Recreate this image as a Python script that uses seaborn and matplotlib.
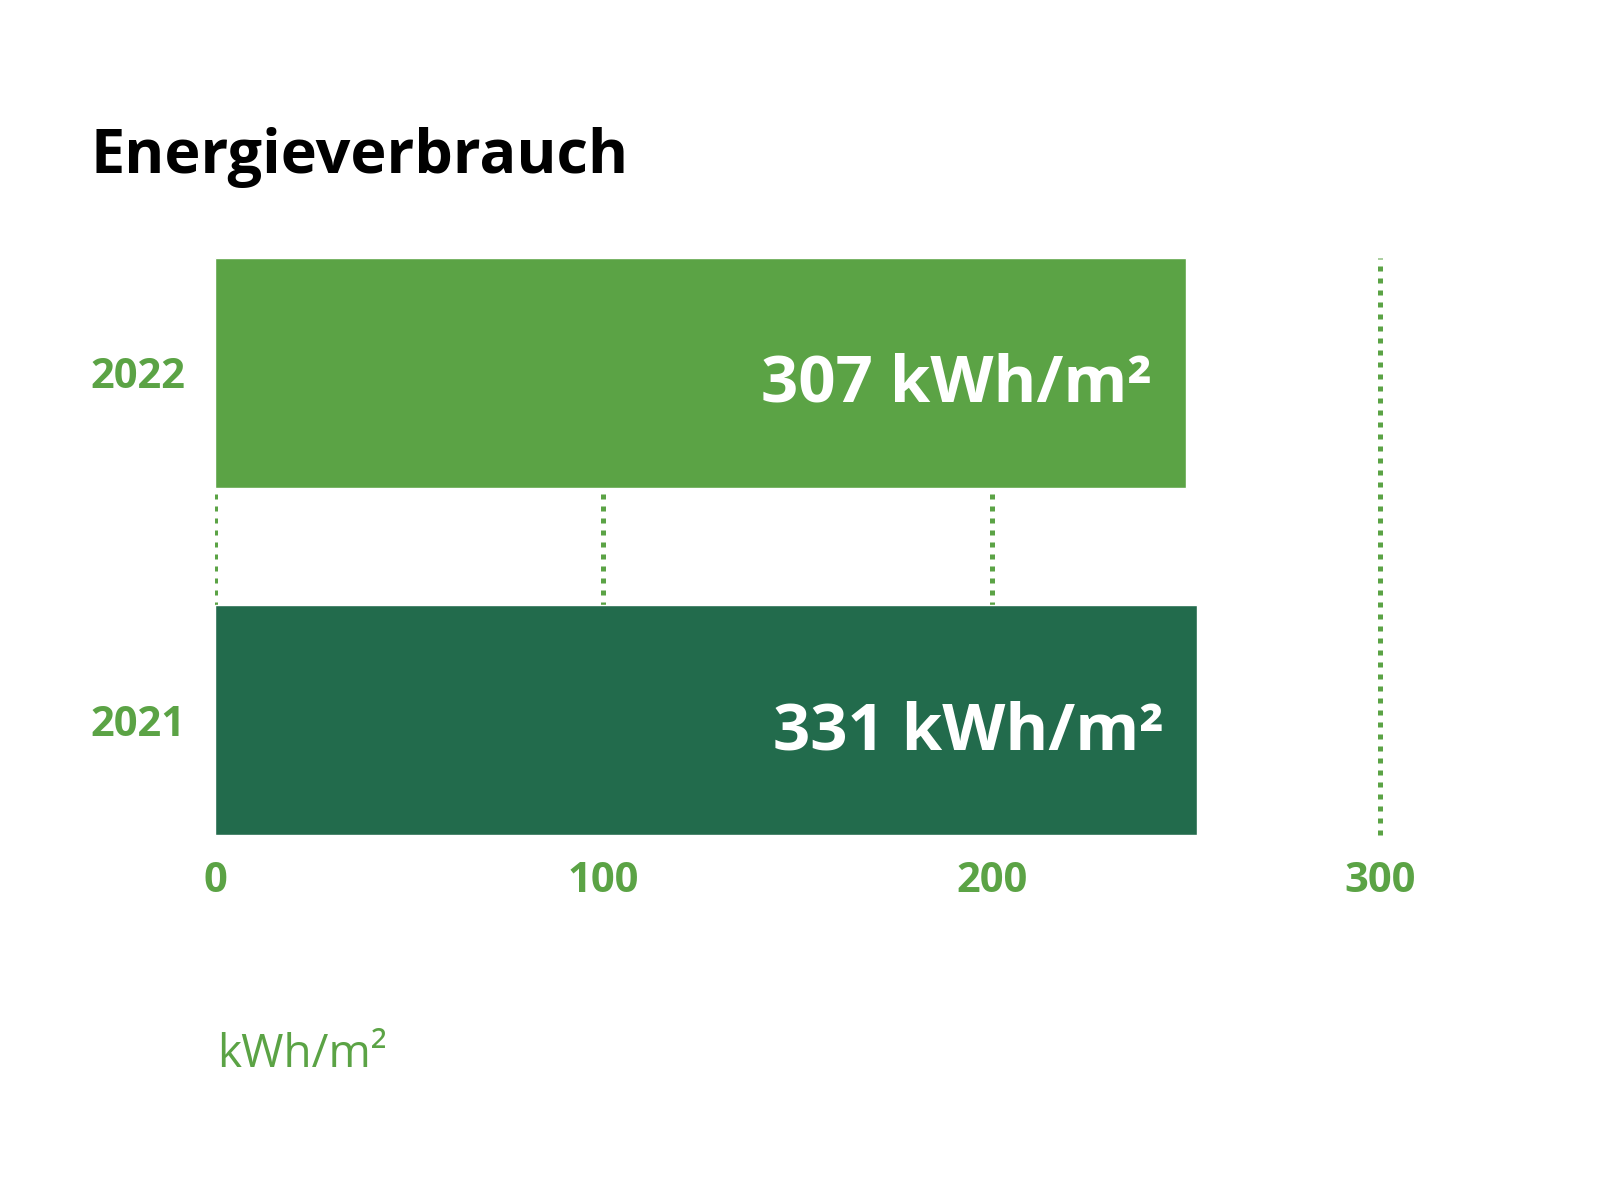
import matplotlib
matplotlib.use("Agg")
import matplotlib.pyplot as plt
import seaborn as sns

# ----------------------------------------------------------
# Data (bar lengths as drawn in the picture, labels as printed)
# ----------------------------------------------------------
years = ["2022", "2021"]
bar_lengths = [250, 253]
label_values = [307, 331]
x_ticks = [0, 100, 200, 300]

LIGHT = "#5BA345"
DARK = "#226B4C"

sns.set_theme(style="white")
plt.rcParams["font.family"] = ["Open Sans", "DejaVu Sans"]

fig = plt.figure(figsize=(16, 12), dpi=100)
ax = fig.add_axes([215 / 1600, 1 - 835 / 1200, 1165 / 1600, 577 / 1200])

bar_h = 230 / 348
sns.barplot(x=bar_lengths, y=years, hue=years, palette=[LIGHT, DARK],
            orient="h", width=bar_h, saturation=1, legend=False, ax=ax, zorder=3)

ax.set_xlim(0, 300)
ax.set_ylim(1 + bar_h / 2, -bar_h / 2)
ax.set_xticks(x_ticks)
ax.set_xlabel("")
ax.set_ylabel("")

# dotted vertical grid behind bars
ax.set_axisbelow(True)
ax.grid(axis="x", color=LIGHT, linestyle=(0, (1, 1.4)), linewidth=3.6)
ax.grid(axis="y", visible=False)
for gl in ax.xaxis.get_gridlines():
    gl.set_dash_capstyle("butt")
# the line at 300 sits on the right edge, keep it whole
ax.xaxis.get_gridlines()[-1].set_clip_on(False)

sns.despine(ax=ax, left=True, bottom=True)
ax.tick_params(axis="both", length=0)
ax.tick_params(axis="x", pad=19, labelsize=30, labelcolor=LIGHT)
ax.tick_params(axis="y", pad=21, labelsize=30, labelcolor=LIGHT)
for lbl in ax.get_xticklabels() + ax.get_yticklabels():
    lbl.set_fontweight("bold")

# value labels inside the bars
for i, (length, val) in enumerate(zip(bar_lengths, label_values)):
    ax.annotate(f"{val} kWh/m²", xy=(length, i), xytext=(-24, -9),
                textcoords="offset points", ha="right", va="center",
                color="white", fontsize=47, fontweight="bold", zorder=5)

fig.text(90 / 1600, 1 - 173 / 1200, "Energieverbrauch", fontsize=44,
         fontweight="bold", color="black", va="baseline", ha="left")
fig.text(217 / 1600, 1 - 1067 / 1200, "kWh/m²", fontsize=33,
         color=LIGHT, va="baseline", ha="left")

fig.savefig("out.png", dpi=100)
